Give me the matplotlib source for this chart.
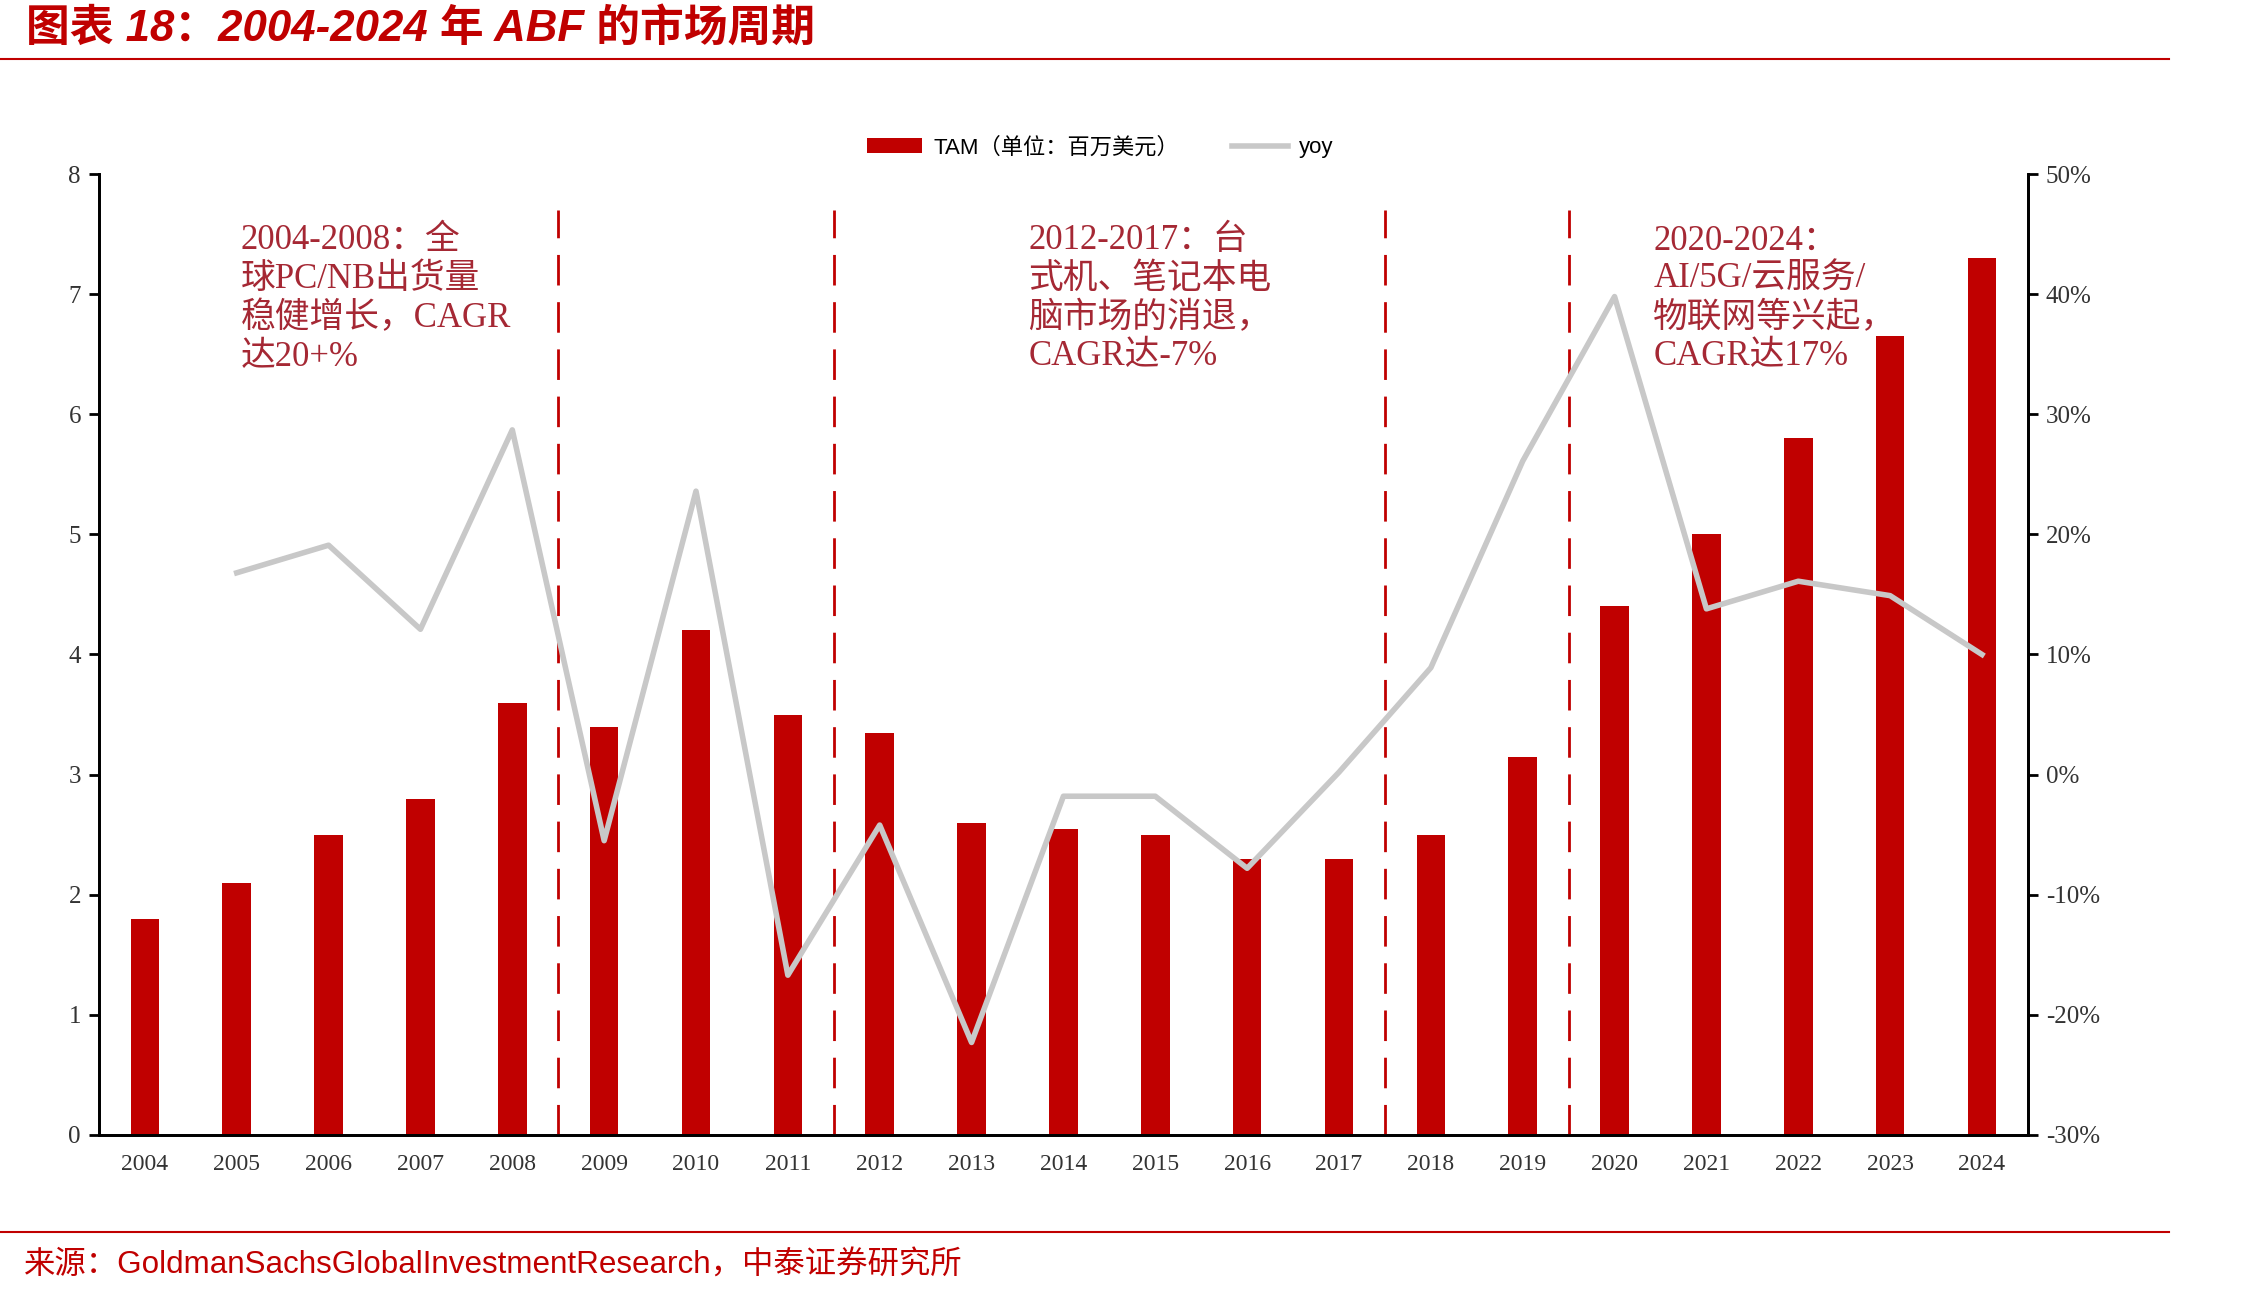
import numpy as np
import matplotlib
matplotlib.use("Agg")
import matplotlib.pyplot as plt
from matplotlib.lines import Line2D
from matplotlib.patches import Patch

plt.rcParams['font.family'] = ['Liberation Serif', 'Noto Sans CJK SC']
plt.rcParams['axes.unicode_minus'] = False

# data
years = ['2004', '2005', '2006', '2007', '2008', '2009', '2010', '2011', '2012', '2013', '2014',
         '2015', '2016', '2017', '2018', '2019', '2020', '2021', '2022', '2023', '2024']
tam = [1.8, 2.1, 2.5, 2.8, 3.6, 3.4, 4.2, 3.5, 3.35, 2.6, 2.55,
       2.5, 2.3, 2.3, 2.5, 3.15, 4.4, 5.0, 5.8, 6.65, 7.3]
yoy = [np.nan, 16.8, 19.1, 12.1, 28.7, -5.5, 23.6, -16.7, -4.2, -22.3, -1.8,
       -1.8, -7.8, 0.2, 8.9, 26.1, 39.8, 13.8, 16.1, 14.9, 10.0]
cycle_breaks = [4.5, 7.5, 13.5, 15.5]
notes = ['2004-2008：全\n球PC/NB出货量\n稳健增长，CAGR\n达20+%',
         '2012-2017：台\n式机、笔记本电\n脑市场的消退，\nCAGR达-7%',
         '2020-2024：\nAI/5G/云服务/\n物联网等兴起，\nCAGR达17%']
note_x = [1.04, 9.62, 16.42]

RED = '#C00000'
NOTE_RED = '#A52834'
GRAY = '#C8C8C8'
TICK = '#333333'

fig = plt.figure(figsize=(22.59, 12.95), dpi=100)
ax = fig.add_axes([0.0438, 0.1236, 0.8539, 0.742])
ax2 = ax.twinx()

x = np.arange(len(years))
ax.bar(x, tam, width=0.31, color=RED, zorder=2)
ax.vlines(cycle_breaks, 0, 7.7, colors=RED, linestyles=(0, (11, 6)), lw=2, zorder=3)
ax2.plot(x, yoy, color=GRAY, lw=4, zorder=4)

ax.set_xlim(-0.5, len(years) - 0.5)
ax.set_ylim(0, 8)
ax.set_yticks(range(0, 9))
ax.set_xticks(x)
ax.set_xticklabels(years)
ax2.set_ylim(-30, 50)
ax2.set_yticks(range(-30, 51, 10))
ax2.set_yticklabels([f'{v}%' for v in range(-30, 51, 10)])

for a in (ax, ax2):
    a.spines['top'].set_visible(False)
    for s in ('left', 'right', 'bottom'):
        a.spines[s].set_linewidth(2)
        a.spines[s].set_color('black')
ax.tick_params(axis='x', length=0, pad=14, labelsize=17, labelcolor=TICK)
ax.tick_params(axis='y', length=7, width=2, labelsize=18, labelcolor=TICK, pad=6)
ax2.tick_params(axis='y', length=7, width=2, labelsize=18, labelcolor=TICK, pad=6)

for nx_, txt in zip(note_x, notes):
    ax.text(nx_, 7.58, txt, va='top', ha='left', fontsize=25, color=NOTE_RED,
            linespacing=1.22, zorder=5)

handles = [Patch(facecolor=RED), Line2D([0], [0], color=GRAY, lw=4)]
fig.legend(handles, ['TAM（单位：百万美元）', 'yoy'], loc='center', bbox_to_anchor=(0.487, 0.886),
           ncol=2, frameon=False, handlelength=2.5, handleheight=0.6,
           columnspacing=2.4, handletextpad=0.5,
           prop={'family': ['Liberation Sans', 'Noto Sans CJK SC'], 'size': 16})

fig.text(0.0115, 0.978, '图表 18：2004-2024 年 ABF 的市场周期', va='center', ha='left',
         fontsize=31.5, fontweight='bold', fontstyle='italic', color=RED,
         family=['Liberation Sans', 'Noto Sans CJK SC'])
fig.add_artist(Line2D([0, 0.96], [0.9545, 0.9545], color=RED, lw=1.5))
fig.add_artist(Line2D([0, 0.96], [0.0486, 0.0486], color=RED, lw=1.5))
fig.text(0.0106, 0.0235, '来源：GoldmanSachsGlobalInvestmentResearch，中泰证券研究所', va='center',
         ha='left', fontsize=22.6, color=RED, family=['Liberation Sans', 'Noto Sans CJK SC'])

fig.savefig('out.png', dpi=100)
